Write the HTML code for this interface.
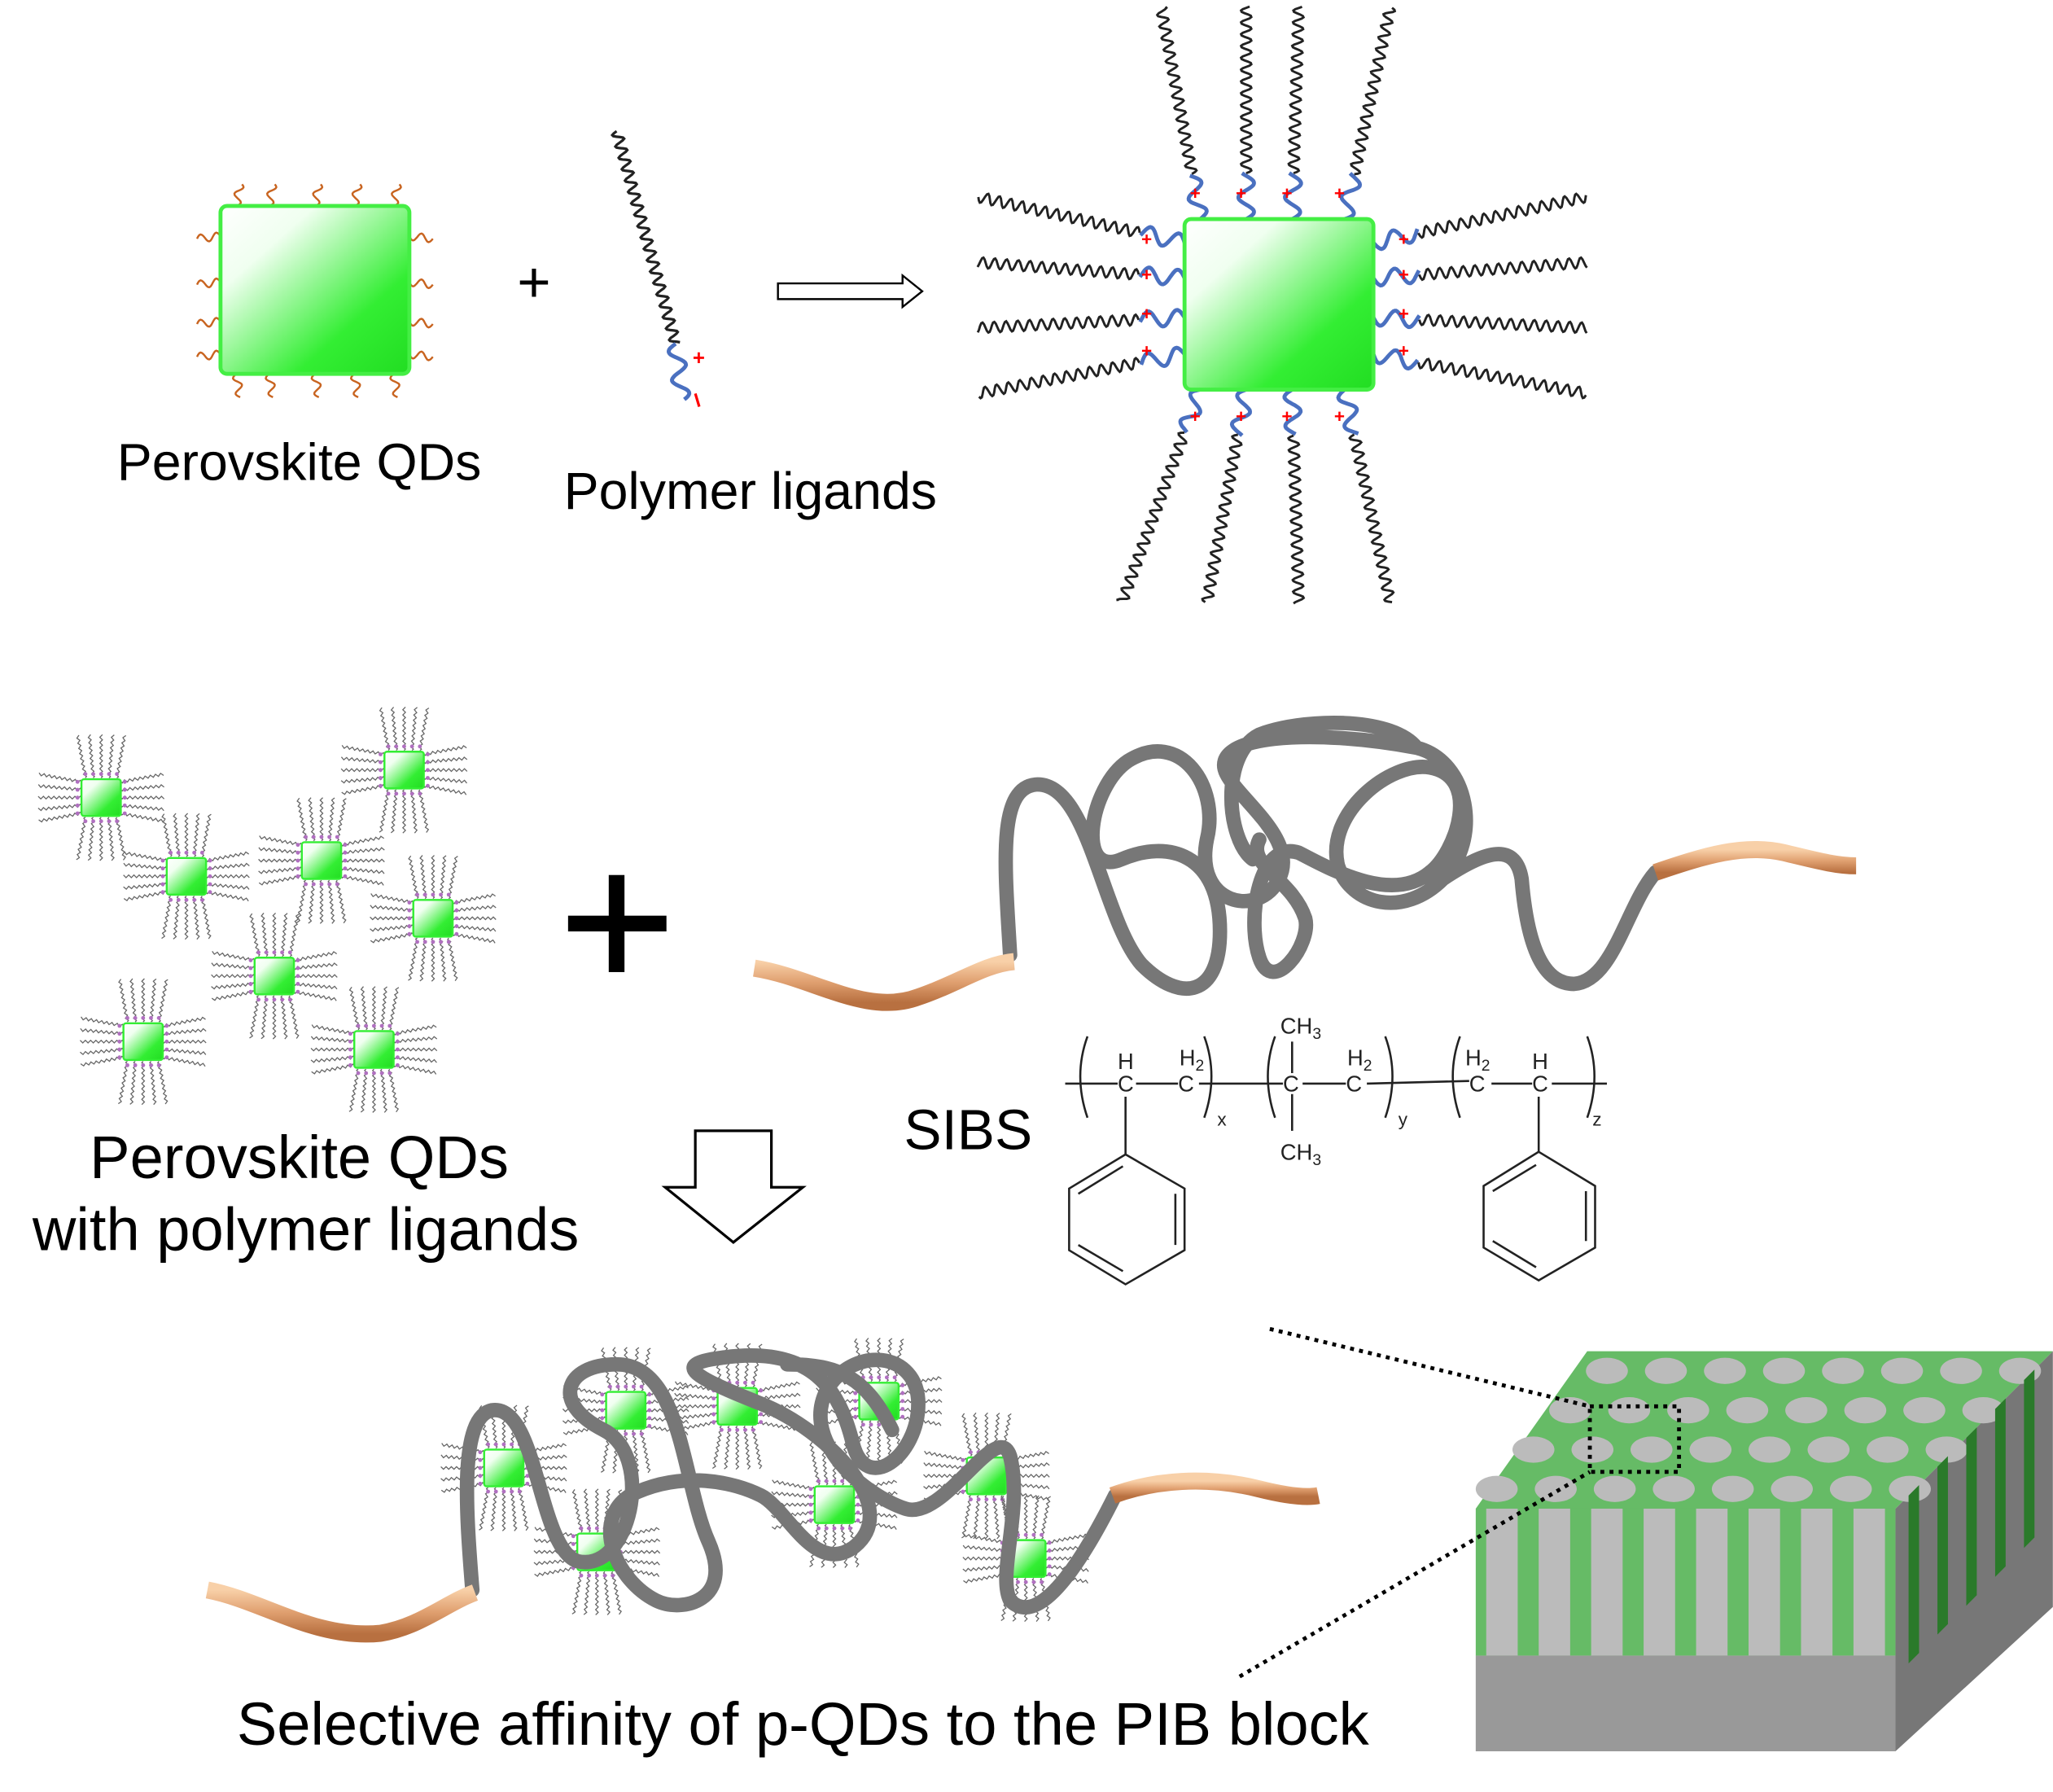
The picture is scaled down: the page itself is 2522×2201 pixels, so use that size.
<!DOCTYPE html>
<html><head><meta charset="utf-8">
<style>
html,body{margin:0;padding:0;background:#fff;}
svg{display:block;}
text{font-family:"Liberation Sans",Arial,sans-serif;}
</style></head>
<body>
<svg id="s" width="2522" height="2201" viewBox="0 0 1565 1366" xmlns="http://www.w3.org/2000/svg">
<defs>
<linearGradient id="qd" x1="0" y1="0" x2="1" y2="1">
<stop offset="0" stop-color="#ffffff"/><stop offset="0.25" stop-color="#f0fff0"/><stop offset="0.7" stop-color="#33ee33"/><stop offset="1" stop-color="#22dd22"/>
</linearGradient>
<linearGradient id="cu" x1="0" y1="0" x2="0" y2="1">
<stop offset="0" stop-color="#f8d0a8"/><stop offset="0.5" stop-color="#e0a070"/><stop offset="1" stop-color="#b87040"/>
</linearGradient>
</defs>
<g id="g"></g>

<rect x="168" y="157" width="144" height="128" rx="5" fill="url(#qd)" stroke="#44ee44" stroke-width="3"/>
<text x="407" y="230" font-size="44" text-anchor="middle">+</text>
<path d="M593,216 L688,216 L688,210 L703,222 L688,234 L688,228 L593,228 Z" fill="#fff" stroke="#000" stroke-width="1.5"/>
<rect x="903" y="167" width="144" height="130" rx="5" fill="url(#qd)" stroke="#44ee44" stroke-width="3"/>

<text x="228" y="366" font-size="40" text-anchor="middle">Perovskite QDs</text>
<text x="572" y="388" font-size="40" text-anchor="middle">Polymer ligands</text>

<rect x="433" y="698" width="75" height="12" fill="#000"/>
<rect x="464" y="667" width="12" height="74" fill="#000"/>

<path d="M770,728 C766,660 760,600 790,598 C830,596 840,700 870,735 C900,765 930,760 930,710 C930,650 890,640 855,655 C820,670 830,600 860,580 C900,555 930,600 920,640 C910,690 960,700 975,670 C990,640 945,610 935,590 C920,560 1000,555 1080,570 C1120,580 1130,640 1100,670 C1070,700 1030,690 1020,660 C1010,620 1060,580 1090,585 C1130,592 1110,650 1090,665 C1060,690 1010,660 990,650 C960,640 950,700 960,730 C970,760 1000,720 995,700 C985,670 950,660 960,640 M1080,570 C1060,545 990,548 960,560 C930,575 935,640 955,655 M1160,670 C1165,730 1180,750 1200,750 C1230,748 1240,690 1262,665 M1100,670 C1130,650 1155,640 1160,670" fill="none" stroke="#777" stroke-width="11" stroke-linecap="round" stroke-linejoin="round"/>
<path d="M575,738 C620,745 660,775 700,760 C730,750 750,735 773,733" fill="none" stroke="url(#cu)" stroke-width="13" stroke-linecap="butt"/>
<path d="M1262,665 C1300,652 1330,643 1360,650 C1385,656 1400,660 1415,660" fill="none" stroke="url(#cu)" stroke-width="13"/>

<text x="738" y="876" font-size="43" text-anchor="middle">SIBS</text>

<g stroke="#222" stroke-width="1.6" fill="none">
<line x1="812" y1="826" x2="852" y2="826"/><line x1="866" y1="826" x2="898" y2="826"/>
<line x1="914" y1="826" x2="978" y2="826"/><line x1="993" y1="826" x2="1026" y2="826"/>
<line x1="1042" y1="826" x2="1120" y2="824"/><line x1="1137" y1="826" x2="1168" y2="826"/>
<line x1="1183" y1="826" x2="1225" y2="826"/>
<line x1="985" y1="794" x2="985" y2="818"/><line x1="985" y1="834" x2="985" y2="862"/>
<line x1="858" y1="836" x2="858" y2="880"/><line x1="1173" y1="836" x2="1173" y2="878"/>
<path d="M829,790 Q818,820 829,852"/><path d="M918,790 Q929,820 918,852"/>
<path d="M972,790 Q961,820 972,852"/><path d="M1056,790 Q1067,820 1056,852"/>
<path d="M1113,790 Q1102,820 1113,852"/><path d="M1210,790 Q1221,820 1210,852"/>
<polygon points="858,880 903,906 903,953 858,979 815,953 815,906"/>
<line x1="822" y1="910" x2="856" y2="889"/><line x1="896" y1="910" x2="896" y2="949"/><line x1="822" y1="949" x2="856" y2="969"/>
<polygon points="1173,878 1216,904 1216,951 1173,976 1131,951 1131,904"/>
<line x1="1138" y1="908" x2="1171" y2="888"/><line x1="1209" y1="908" x2="1209" y2="946"/><line x1="1138" y1="946" x2="1171" y2="966"/>
</g>
<g font-size="17" fill="#222">
<text x="852" y="832">C</text><text x="898" y="832">C</text><text x="978" y="832">C</text><text x="1026" y="832">C</text><text x="1120" y="832">C</text><text x="1168" y="832">C</text>
<text x="852" y="815">H</text><text x="899" y="812">H<tspan font-size="12" dy="4">2</tspan></text>
<text x="1027" y="812">H<tspan font-size="12" dy="4">2</tspan></text><text x="1117" y="812">H<tspan font-size="12" dy="4">2</tspan></text>
<text x="1168" y="815">H</text>
<text x="976" y="788">CH<tspan font-size="12" dy="4">3</tspan></text><text x="976" y="884">CH<tspan font-size="12" dy="4">3</tspan></text>
<text x="928" y="858" font-family="Liberation Serif" font-size="14">x</text>
<text x="1066" y="858" font-family="Liberation Serif" font-size="14">y</text>
<text x="1214" y="858" font-family="Liberation Serif" font-size="14">z</text>
</g>

<path d="M530,862 L588,862 L588,905 L612,905 L559,947 L507,905 L530,905 Z" fill="#fff" stroke="#000" stroke-width="2"/>
<text x="228" y="898" font-size="46" text-anchor="middle">Perovskite QDs</text>
<text x="233" y="953" font-size="46" text-anchor="middle">with polymer ligands</text>

<path d="M360,1212 C355,1150 350,1080 375,1075 C410,1070 410,1180 440,1190 C480,1200 500,1110 460,1090 C420,1070 430,1040 470,1040 C520,1040 520,1130 540,1175 C560,1220 520,1230 500,1220 C470,1205 450,1160 480,1140 C520,1120 560,1130 580,1140 C600,1150 620,1200 650,1180 C690,1150 630,1090 580,1070 C530,1050 510,1040 550,1035 C620,1025 640,1060 650,1100 C660,1140 700,1110 700,1070 C700,1030 650,1025 630,1060 C610,1100 660,1140 690,1150 C720,1160 760,1080 770,1110 C780,1150 760,1200 770,1220 C790,1240 820,1200 850,1140 M600,1040 C640,1040 660,1050 680,1090" fill="none" stroke="#777" stroke-width="11" stroke-linecap="round" stroke-linejoin="round"/>
<path d="M158,1212 C200,1220 240,1250 290,1245 C320,1240 340,1222 362,1214" fill="none" stroke="url(#cu)" stroke-width="13"/>
<path d="M848,1140 C880,1128 920,1125 960,1135 C980,1140 995,1142 1005,1140" fill="none" stroke="url(#cu)" stroke-width="13"/>
<text x="612" y="1330" font-size="46" text-anchor="middle">Selective affinity of p-QDs to the PIB block</text>

<polygon points="1125,1262 1445,1262 1445,1335 1125,1335" fill="#999"/>
<polygon points="1445,1150 1565,1030 1565,1225 1445,1335" fill="#777"/>
<polygon points="1125,1150 1210,1030 1565,1030 1445,1150" fill="#66bb66"/>
<rect x="1125" y="1150" width="320" height="112" fill="#66bb66"/>
<g id="blk"></g>
<g fill="none" stroke="#000" stroke-width="3" stroke-dasharray="3,4">
<line x1="968" y1="1013" x2="1212" y2="1072"/><line x1="945" y1="1278" x2="1212" y2="1122"/>
<rect x="1212" y="1072" width="68" height="50"/>
</g>
</svg>
<script>
var NS="http://www.w3.org/2000/svg",G=document.getElementById('g');
function el(t,a,p){var e=document.createElementNS(NS,t);for(var k in a)e.setAttribute(k,a[k]);(p||G).appendChild(e);return e;}
function wave(x1,y1,x2,y2,amp,per,col,w,p){var dx=x2-x1,dy=y2-y1,L=Math.hypot(dx,dy),ux=dx/L,uy=dy/L,pts=[];for(var s=0;s<=L;s+=1){var o=amp*Math.sin(s/per*2*Math.PI);pts.push((x1+ux*s-uy*o).toFixed(1)+","+(y1+uy*s+ux*o).toFixed(1));}el('polyline',{points:pts.join(' '),fill:'none',stroke:col,'stroke-width':w},p);}
var o='#c86420';
[180,205,240,270,300].forEach(function(x){wave(x,157,x+3,140,3,12,o,1.5);wave(x,285,x+3,303,3,12,o,1.5);});
[180,215,245,270].forEach(function(y){wave(168,y,150,y+2,3,12,o,1.5);wave(312,y,330,y+2,3,12,o,1.5);});
wave(470,100,515,262,4,9,'#222',2);
wave(515,262,520,305,6,22,'#4a70c0',3);
el('text',{x:528,y:278,fill:'red','font-size':16,'font-weight':'bold'}).textContent='+';
el('line',{x1:530,y1:300,x2:533,y2:310,stroke:'red','stroke-width':2});
function lig(bx,by,ex,ey,side){var dx=ex-bx,dy=ey-by,L=Math.hypot(dx,dy);var mx=bx+dx*35/L,my=by+dy*35/L;wave(bx,by,mx,my,6,22,'#4a70c0',3);wave(mx,my,ex,ey,4,9,'#222',1.8);}
var tx=[915,950,985,1025],tt=[885,950,990,1060];
for(var i=0;i<4;i++){lig(tx[i],167,tt[i],5);lig(tx[i],297,tt[i]-(i<2?30:0),460);
 el('text',{x:tx[i]-8,y:152,fill:'red','font-size':14,'font-weight':'bold'}).textContent='+';
 el('text',{x:tx[i]-8,y:322,fill:'red','font-size':14,'font-weight':'bold'}).textContent='+';}
var ly=[185,212,242,270],le=[150,200,250,300];
for(var i=0;i<4;i++){lig(903,ly[i],745,le[i]);lig(1047,ly[i],1210,le[i]);
 el('text',{x:870,y:ly[i]+2,fill:'red','font-size':14,'font-weight':'bold'}).textContent='+';
 el('text',{x:1066,y:ly[i]+2,fill:'red','font-size':14,'font-weight':'bold'}).textContent='+';}
function sq(cx,cy){var g=el('g',{});var L=33;for(var k=-2;k<=2;k++){var d=k*6;
 [[cx+d,cy-15,cx+d*1.5,cy-15-L],[cx+d,cy+15,cx+d*1.5,cy+15+L],[cx-15,cy+d,cx-15-L,cy+d*1.5],[cx+15,cy+d,cx+15+L,cy+d*1.5]].forEach(function(a){wave(a[0],a[1],a[2],a[3],1,4,'#666',0.8,g);});}
 for(var k=-2;k<=2;k++){el('circle',{cx:cx+k*6,cy:cy-18,r:1.5,fill:'#b070c0'},g);el('circle',{cx:cx+k*6,cy:cy+18,r:1.5,fill:'#b070c0'},g);el('circle',{cx:cx-18,cy:cy+k*6,r:1.5,fill:'#b070c0'},g);el('circle',{cx:cx+18,cy:cy+k*6,r:1.5,fill:'#b070c0'},g);}
 el('rect',{x:cx-15,y:cy-14,width:30,height:28,rx:2,fill:'url(#qd)',stroke:'#3e3','stroke-width':1.5},g);}
[[77,608],[142,668],[245,656],[308,587],[330,700],[209,744],[109,794],[285,800],[384,1119],[477,1075],[562,1072],[670,1068],[752,1125],[636,1147],[455,1183],[782,1188]].forEach(function(p){sq(p[0],p[1]);});
var B=document.getElementById('blk');
for(var i=0;i<8;i++){var x=1133+i*40;el('rect',{x:x,y:1150,width:24,height:112,fill:'#bbb'},B);}
for(var r=0;r<4;r++){for(var c=0;c<8;c++){var y=1045+r*30,x=1225-r*28+c*45;if(x<1560&&x>1130)el('ellipse',{cx:x,cy:y,rx:16,ry:10,fill:'#bbb'},B);}}
for(var i=0;i<5;i++){var x=1455+i*22;el('polygon',{points:(x)+','+(1140-i*22)+' '+(x+8)+','+(1132-i*22)+' '+(x+8)+','+(1320-i*22-60)+' '+x+','+(1328-i*22-60),fill:'#2a7a2a'},B);}
</script>
</body></html>
